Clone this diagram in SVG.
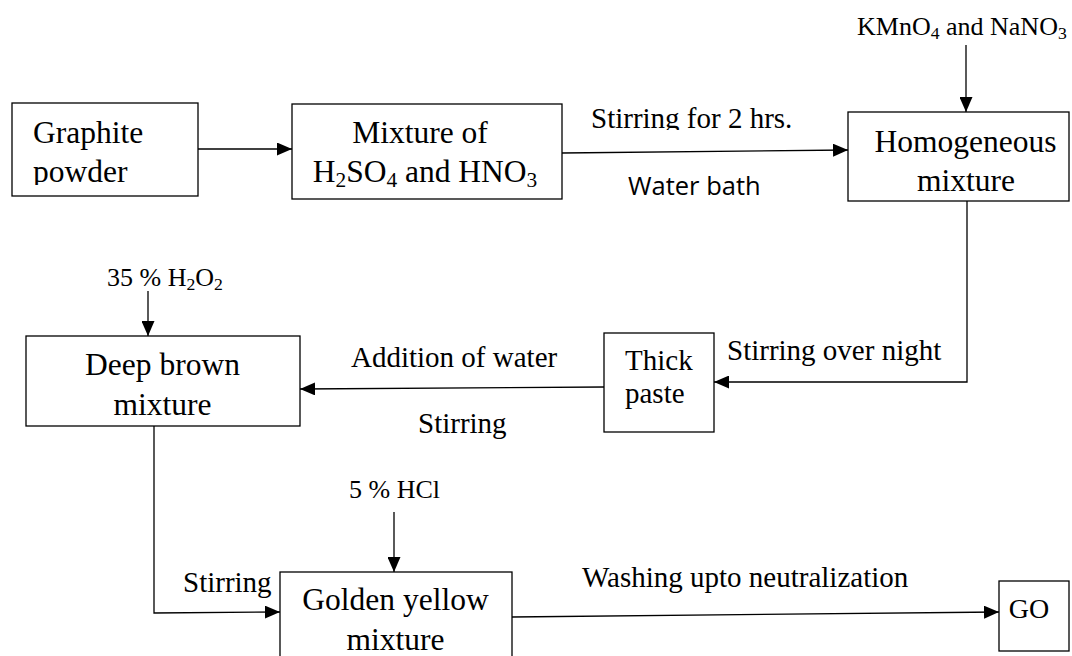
<svg xmlns="http://www.w3.org/2000/svg" width="1072" height="656" viewBox="0 0 1072 656">
<style>
.box{fill:#fff;stroke:#000;stroke-width:1.3}
.t{font-family:"Liberation Serif","Times New Roman",serif;fill:#000}
.big{font-size:31.5px}
.lbl{font-size:29px}
.sm{font-size:26px}
.sans{font-family:"Open Sans","Liberation Sans",sans-serif;font-size:25.5px;fill:#000}
.c{stroke:#000;stroke-width:1.3;fill:none}
.a{marker-end:url(#ah)}
.sub{font-size:0.68em}
</style>
<defs>
<marker id="ah" markerUnits="userSpaceOnUse" markerWidth="15" markerHeight="13" refX="15" refY="6.5" orient="auto"><path d="M0,0 L15,6.5 L0,13 Z" fill="#000"/></marker>
<clipPath id="clipG"><rect x="12" y="103" width="186" height="82"/></clipPath>
<clipPath id="clipS"><rect x="580" y="90" width="240" height="40"/></clipPath>
</defs>
<rect width="1072" height="656" fill="#fff"/>

<g id="connectors">
<line class="c a" x1="198" y1="149" x2="292" y2="149"/>
<line class="c a" x1="562" y1="153" x2="848" y2="150"/>
<line class="c a" x1="966" y1="45" x2="966" y2="112"/>
<polyline class="c a" points="967,201 967,382 714,382"/>
<line class="c a" x1="604" y1="387" x2="300" y2="389"/>
<line class="c a" x1="148" y1="291" x2="148" y2="336"/>
<polyline class="c a" points="154,426 154,613 280,612"/>
<line class="c a" x1="394" y1="512" x2="394" y2="572"/>
<line class="c a" x1="512" y1="617" x2="999" y2="612"/>
</g>

<g id="labels">
<text class="t lbl" x="591" y="128" clip-path="url(#clipS)">Stirring for 2 hrs.</text>
<text class="sans" x="628" y="195">Water bath</text>
<text class="t sm" x="857" y="35">KMnO<tspan class="sub" dy="4">4</tspan><tspan dy="-4"> and NaNO</tspan><tspan class="sub" dy="4">3</tspan></text>
<text class="t lbl" x="727" y="360">Stirring over night</text>
<text class="t lbl" x="351" y="367">Addition of water</text>
<text class="t lbl" x="418" y="433">Stirring</text>
<text class="t sm" x="107" y="286">35 % H<tspan class="sub" dy="4">2</tspan><tspan dy="-4">O</tspan><tspan class="sub" dy="4">2</tspan></text>
<text class="t lbl" x="183" y="592">Stirring</text>
<text class="t sm" x="349" y="498">5 % HCl</text>
<text class="t lbl" x="582" y="587">Washing upto neutralization</text>
</g>

<g id="node-graphite">
<rect class="box" x="12" y="103" width="186" height="93"/>
<g clip-path="url(#clipG)">
<text class="t big" x="33" y="143">Graphite</text>
<text class="t big" x="33" y="182">powder</text>
</g>
</g>

<g id="node-mixture">
<rect class="box" x="292" y="104" width="270" height="95"/>
<text class="t big" x="420" y="143" text-anchor="middle">Mixture of</text>
<text class="t big" x="425" y="182" text-anchor="middle">H<tspan class="sub" dy="5">2</tspan><tspan dy="-5">SO</tspan><tspan class="sub" dy="5">4</tspan><tspan dy="-5"> and HNO</tspan><tspan class="sub" dy="5">3</tspan></text>
</g>

<g id="node-homogeneous">
<rect class="box" x="848" y="112" width="221" height="89"/>
<text class="t big" x="965.5" y="152" text-anchor="middle">Homogeneous</text>
<text class="t big" x="966" y="191" text-anchor="middle">mixture</text>
</g>

<g id="node-thick-paste">
<rect class="box" x="604" y="333" width="110" height="99"/>
<text class="t lbl" x="625" y="370">Thick</text>
<text class="t lbl" x="625" y="403">paste</text>
</g>

<g id="node-deep-brown">
<rect class="box" x="26" y="336" width="274" height="90"/>
<text class="t big" x="162.5" y="375" text-anchor="middle">Deep brown</text>
<text class="t big" x="162.5" y="415" text-anchor="middle">mixture</text>
</g>

<g id="node-golden">
<rect class="box" x="280" y="572" width="232" height="100"/>
<text class="t big" x="395.5" y="610" text-anchor="middle">Golden yellow</text>
<text class="t big" x="395.5" y="650" text-anchor="middle">mixture</text>
</g>

<g id="node-go">
<rect class="box" x="999" y="581" width="70" height="70"/>
<text class="t" x="1029" y="618" font-size="28" text-anchor="middle">GO</text>
</g>
</svg>
